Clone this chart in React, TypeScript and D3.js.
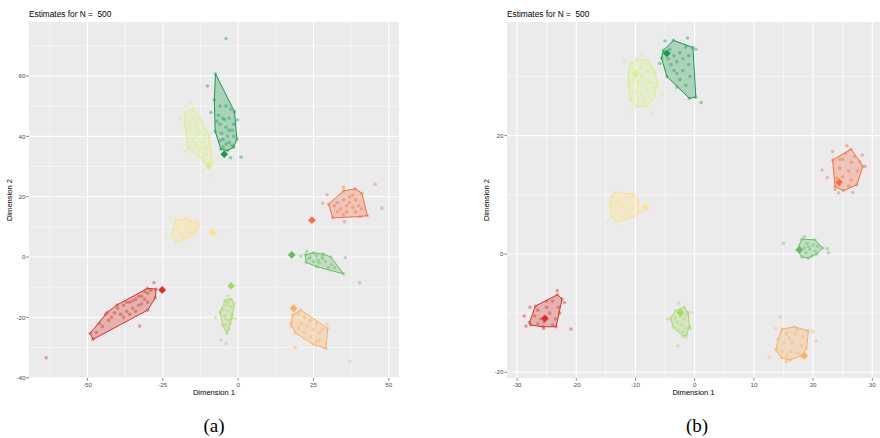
import * as d3 from "d3";

type Pt = [number, number];

// RdYlGn, one colour per cluster
const palette = ["#D73027", "#F46D43", "#FDAE61", "#FEE08B", "#D9EF8B", "#A6D96A", "#66BD63", "#1A9850"];

const titleText = "Estimates for N =  500";

// ---- panel (a) ----
const xTicksA = [-50, -25, 0, 25, 50];
const xMinorA = [-62.5, -37.5, -12.5, 12.5, 37.5];
const yTicksA = [-40, -20, 0, 20, 40, 60];
const yMinorA = [-30, -10, 10, 30, 50, 70];

const hullsA: Pt[][] = [
  [[-49.1, -25.3], [-48.2, -27.3], [-30.0, -17.6], [-27.5, -13.5], [-27.2, -10.6], [-30.1, -10.4], [-40.2, -15.9], [-43.4, -18.3]],
  [[30.0, 17.5], [35.0, 21.9], [38.9, 22.6], [41.1, 21.1], [42.9, 13.7], [40.5, 13.4], [31.4, 13.0]],
  [[20.8, -17.6], [29.7, -23.6], [29.2, -30.3], [24.8, -28.9], [18.9, -25.1], [17.6, -22.0], [18.0, -19.2]],
  [[-20.7, 12.3], [-16.8, 12.6], [-12.9, 10.8], [-14.3, 7.5], [-20.6, 4.9], [-22.0, 7.3]],
  [[-15.0, 49.2], [-12.6, 46.0], [-9.7, 40.5], [-8.5, 31.3], [-9.8, 29.4], [-11.3, 31.7], [-16.5, 36.1], [-17.8, 44.5], [-17.5, 47.7]],
  [[-4.3, -14.3], [-2.3, -13.9], [-1.3, -15.6], [-2.1, -20.3], [-3.7, -25.3], [-5.1, -22.6], [-6.0, -18.3]],
  [[22.3, 0.7], [25.0, 1.4], [28.3, 1.0], [30.8, 0.0], [35.0, -5.6], [26.1, -3.2], [22.6, -1.8]],
  [[-7.5, 60.7], [-1.2, 48.2], [-0.4, 39.0], [-1.5, 36.4], [-3.5, 35.3], [-5.7, 35.7], [-7.6, 41.6], [-7.9, 52.1]],
];

const pointsA: Pt[][] = [
  [[-63.7, -33.4], [-27.9, -8.5], [-32.7, -22.9], [-46, -22], [-44, -19], [-42, -20], [-40, -17], [-39, -19], [-38, -16], [-37, -18], [-36, -15], [-35, -17], [-34, -14], [-33, -16], [-32, -13], [-31, -14], [-30, -12], [-29, -11], [-31, -11.5], [-33, -13], [-35, -14.5], [-37, -15], [-41, -18.5], [-43, -21], [-45, -23], [-47, -25], [-36, -19], [-34, -18], [-30, -15], [-32, -15.5], [-38, -20]],
  [[45.5, 24.1], [47.7, 16.2], [29.5, 20.6], [28.1, 17.8], [35.3, 11.7], [35, 23], [33, 18], [35, 19], [37, 20], [39, 19], [36, 17], [38, 16.5], [40, 17], [34, 16], [36, 15], [39, 15], [41, 16], [33, 15], [37, 18], [35, 14], [32, 17], [38, 20.5]],
  [[18.9, -30.0], [37.2, -34.6], [29.5, -22.2], [17.5, -23.1], [20, -19], [22, -20], [24, -21], [26, -22], [21, -22], [23, -23], [25, -24], [27, -25], [22, -25], [24, -26.5], [27, -27.5], [20, -23.5], [28, -24], [26, -28]],
  [[-22.6, 12.8], [-23.9, 6.6], [-18.1, 3.6], [-13.9, 11.7], [-20, 10], [-18, 11], [-16, 10], [-14.5, 9.5], [-19, 8], [-17, 8.5], [-15.5, 8], [-18, 6.5], [-16, 11.5], [-13.5, 10], [-20, 9], [-17, 10]],
  [[-15.9, 51.0], [-17.2, 49.9], [-19.1, 46.1], [-17.5, 35.2], [-11.7, 28.5], [-8.6, 27.4], [-7.1, 32.7], [-15, 46], [-14, 44], [-16, 42], [-13, 41], [-15, 39], [-12, 38], [-14, 37], [-11, 36], [-13, 35], [-10.5, 34], [-12, 33], [-11, 40], [-16, 44.5], [-14, 40], [-12.5, 36.5], [-10, 37]],
  [[-5.7, -27.5], [-4.0, -28.7], [-7.5, -20.1], [-1.0, -20.3], [-3.4, -12.9], [-4, -16], [-2.5, -16.5], [-3.5, -18], [-2, -19], [-4.5, -19.5], [-3, -21], [-4, -22.5], [-3, -24], [-5, -17.5], [-2.5, -22], [-3.5, -15], [-4.2, -20.5]],
  [[35.6, -0.2], [40.3, -8.5], [20.8, 0.3], [22.8, 1.8], [24, 0], [26, 0.5], [28, -0.5], [25, -1.5], [27, -2], [29, -1.5], [31, -2.5], [30, -3.5], [23.5, -0.5], [26.5, -1], [32, -3.5], [28, 0.3]],
  [[-4.0, 72.4], [-10.2, 56.7], [-9.0, 47.9], [1.0, 33.1], [-2.5, 32.9], [-0.2, 45.4], [-6, 50], [-4, 50], [-2.5, 49], [-6.5, 47], [-5, 46], [-3, 46], [-1.5, 44], [-6, 44], [-4, 43], [-2, 42], [-5.5, 41], [-3.5, 40], [-1.5, 40], [-5, 39], [-3, 38], [-2, 37], [-4, 37.5], [-6, 38.5], [-5, 36.5], [-3, 42], [-7, 45], [-4.5, 45.5]],
];

const centersA: Pt[] = [[-25.2, -10.9], [24.5, 12.2], [18.4, -17.0], [-8.4, 8.0], [-9.8, 30.3], [-2.3, -9.6], [17.8, 0.7], [-4.6, 34.1]];

// ---- panel (b) ----
const xTicksB = [-30, -20, -10, 0, 10, 20, 30];
const xMinorB = [-25, -15, -5, 5, 15, 25];
const yTicksB = [-20, 0, 20];
const yMinorB = [-10, 10, 30];

const hullsB: Pt[][] = [
  [[-27.9, -11.6], [-26.9, -8.8], [-23.2, -6.9], [-22.4, -7.6], [-23.4, -12.3], [-25.6, -12.3], [-27.7, -12.0]],
  [[23.3, 15.9], [26.4, 17.7], [27.9, 15.6], [28.4, 14.8], [27.4, 11.7], [25.1, 10.7], [23.7, 11.4]],
  [[14.7, -12.7], [16.9, -12.3], [19.2, -13.0], [18.9, -15.9], [18.1, -17.2], [16.1, -17.9], [14.7, -17.6], [13.7, -16.2], [14.1, -14.4]],
  [[-13.5, 10.4], [-10.4, 10.1], [-9.5, 9.1], [-9.5, 6.9], [-10.1, 6.3], [-13.2, 5.5], [-14.0, 6.3], [-14.3, 8.3], [-13.9, 9.7]],
  [[-9.8, 32.9], [-7.8, 32.7], [-6.7, 30.8], [-6.3, 28.9], [-6.8, 26.6], [-8.1, 25.0], [-9.8, 24.9], [-10.8, 26.0], [-11.2, 28.3], [-11.2, 30.6], [-10.8, 32.2]],
  [[-1.8, -9.0], [-1.1, -9.9], [-0.9, -12.3], [-1.4, -13.7], [-2.0, -13.9], [-3.6, -12.4], [-4.1, -10.9], [-3.2, -9.6]],
  [[18.1, 2.5], [20.3, 2.4], [21.6, 1.0], [20.6, 0.0], [19.2, -0.7], [18.1, -0.5], [17.3, 0.7]],
  [[-3.6, 36.1], [-0.3, 34.9], [0.2, 26.5], [-0.9, 26.3], [-4.7, 30.0], [-5.6, 33.1], [-5.3, 34.4]],
];

const pointsB: Pt[][] = [
  [[-23.2, -6.2], [-28.8, -10.5], [-28.5, -12.2], [-25.5, -12.6], [-20.9, -12.7], [-22.0, -8.2], [-27.8, -9.0], [-26.5, -9.5], [-25, -9], [-24, -8], [-23, -9], [-26, -11], [-24.5, -10], [-23.5, -11], [-27, -10.5], [-25.5, -11.5], [-24, -12], [-22.8, -10], [-25, -8], [-26.5, -11.8]],
  [[25.7, 18.3], [23.3, 17.3], [28.3, 16.7], [28.8, 14.8], [21.5, 14.2], [22.4, 12.9], [24.3, 10.3], [26.7, 10.4], [23.7, 10.9], [25, 16], [26.5, 15.5], [24.5, 14.5], [26, 14], [27.5, 14], [25, 13], [26.5, 12.5], [24, 12.8], [27, 16.5], [25.5, 17], [26, 11.5], [24.5, 16]],
  [[14.5, -10.6], [12.6, -17.4], [20.5, -14.7], [20.0, -13.1], [15.5, -18.2], [13.7, -12.6], [15.5, -13.5], [17, -13.5], [18.3, -14], [15, -15], [16.5, -15], [18, -15.5], [14.8, -16.5], [16.2, -16.5], [17.5, -16.8], [16, -14.2], [17.3, -12.8], [15.5, -17.2]],
  [[-14.9, 5.3], [-12.3, 4.3], [-9.0, 7.2], [-13, 9], [-12, 9.5], [-11, 9], [-10.5, 8], [-12.5, 8], [-13.5, 7.5], [-11.5, 7], [-12.5, 6.5], [-11, 6.5], [-13, 8.5], [-10.8, 9.5], [-12, 8]],
  [[-11.8, 32.7], [-9.0, 33.6], [-10.6, 24.2], [-7.2, 23.7], [-5.3, 27.2], [-11.9, 32.5], [-5.6, 27.0], [-10, 31], [-9, 31.5], [-8, 31], [-10.5, 29.5], [-9.5, 29], [-8.5, 29.5], [-7.5, 29], [-10, 27.5], [-9, 27], [-8, 27.5], [-7, 28], [-9.5, 26], [-8.5, 25.8], [-11, 29], [-9, 30]],
  [[-2.7, -8.3], [-0.5, -9.9], [-4.6, -11.0], [-2.8, -15.5], [-0.7, -12.5], [-1.5, -14.1], [-2.5, -10.5], [-1.8, -11], [-3, -11.5], [-2.2, -12], [-1.5, -12.5], [-2.8, -12.8], [-2, -13.2], [-3.3, -10.8], [-1.4, -10.2]],
  [[15.0, 1.8], [22.4, 0.9], [22.6, 0.2], [18.5, 2.9], [19, 1.8], [20, 1.5], [19.5, 0.8], [18.8, 0.2], [20.3, 0.5], [19.2, 1.2], [20.8, 1.3], [18.5, 1.0], [19.8, -0.3]],
  [[-1.2, 36.5], [-5.0, 36.0], [1.1, 25.6], [0.2, 34.6], [-5.9, 32.2], [-3.0, 28.2], [-4.5, 33], [-3.5, 33.5], [-2.5, 34], [-4, 32], [-3, 32.5], [-2, 33], [-1, 33.5], [-3.5, 31], [-2, 31], [-1, 32], [-2.5, 29.5], [-1.5, 28.5], [-3, 30.5], [-0.8, 30], [-4.2, 34.6], [-1.5, 35]],
];

const centersB: Pt[] = [[-25.3, -10.9], [24.4, 12.1], [18.5, -17.2], [-8.3, 7.9], [-10.0, 30.4], [-2.4, -9.9], [17.7, 0.7], [-4.7, 33.9]];

const FONT = "'Liberation Sans', Arial, sans-serif";
const diamond = d3.symbol(d3.symbolSquare, 30)();

function Panel(props: {
  left: number; right: number; top: number; bottom: number;
  xDomain: [number, number]; yDomain: [number, number];
  xTicks: number[]; xMinor: number[]; yTicks: number[]; yMinor: number[];
  hulls: Pt[][]; points: Pt[][]; centers: Pt[]; yTitleX: number;
}) {
  const { left, right, top, bottom } = props;
  const x = d3.scaleLinear().domain(props.xDomain).range([left, right]);
  const y = d3.scaleLinear().domain(props.yDomain).range([bottom, top]);
  const line = d3.line<Pt>().x(d => x(d[0])).y(d => y(d[1])).curve(d3.curveLinearClosed);
  const clipId = "clip" + left;
  return (
    <g>
      <defs>
        <clipPath id={clipId}><rect x={left} y={top} width={right - left} height={bottom - top} /></clipPath>
      </defs>
      <text x={left} y={17} fontSize={8.3} fill="#000" style={{ whiteSpace: "pre" }}>{titleText}</text>
      <rect x={left} y={top} width={right - left} height={bottom - top} fill="#EBEBEB" />
      {props.xMinor.map(v => <line key={"xm" + v} x1={x(v)} x2={x(v)} y1={top} y2={bottom} stroke="#fff" strokeWidth={0.55} />)}
      {props.yMinor.map(v => <line key={"ym" + v} y1={y(v)} y2={y(v)} x1={left} x2={right} stroke="#fff" strokeWidth={0.55} />)}
      {props.xTicks.map(v => <line key={"xM" + v} x1={x(v)} x2={x(v)} y1={top} y2={bottom} stroke="#fff" strokeWidth={1.1} />)}
      {props.yTicks.map(v => <line key={"yM" + v} y1={y(v)} y2={y(v)} x1={left} x2={right} stroke="#fff" strokeWidth={1.1} />)}
      <g clipPath={`url(#${clipId})`}>
        {props.hulls.map((h, i) => (
          <path key={"h" + i} d={line(h) || ""} fill={palette[i]} fillOpacity={0.3} stroke={palette[i]} strokeWidth={1} />
        ))}
        {props.points.map((ps, i) =>
          ps.concat(props.hulls[i]).map((p, j) => (
            <circle key={"p" + i + "-" + j} cx={x(p[0])} cy={y(p[1])} r={1.8} fill={palette[i]} fillOpacity={0.42} />
          ))
        )}
        {props.centers.map((c, i) => (
          <path key={"c" + i} d={diamond || ""} transform={`translate(${x(c[0])},${y(c[1])}) rotate(45)`} fill={palette[i]} />
        ))}
      </g>
      {props.xTicks.map(v => (
        <g key={"xt" + v}>
          <line x1={x(v)} x2={x(v)} y1={bottom} y2={bottom + 2.7} stroke="#333" strokeWidth={0.6} />
          <text x={x(v)} y={bottom + 8.8} fontSize={6.2} fill="#4D4D4D" textAnchor="middle">{v}</text>
        </g>
      ))}
      {props.yTicks.map(v => (
        <g key={"yt" + v}>
          <line x1={left - 2.7} x2={left} y1={y(v)} y2={y(v)} stroke="#333" strokeWidth={0.6} />
          <text x={left - 3.6} y={y(v)} dy="0.35em" fontSize={6.2} fill="#4D4D4D" textAnchor="end">{v}</text>
        </g>
      ))}
      <text x={(left + right) / 2} y={395} fontSize={7.6} fill="#000" textAnchor="middle">Dimension 1</text>
      <text transform={`translate(${props.yTitleX},${(top + bottom) / 2}) rotate(-90)`} fontSize={7.6} fill="#000" textAnchor="middle">Dimension 2</text>
    </g>
  );
}

export default function App() {
  return (
    <svg width={880} height={438} style={{ position: "absolute", left: 0, top: 0, background: "#fff" }} fontFamily={FONT}>
      <Panel left={29} right={399} top={22} bottom={378}
        xDomain={[-69.4, 53.4]} yDomain={[-40.1, 77.9]}
        xTicks={xTicksA} xMinor={xMinorA} yTicks={yTicksA} yMinor={yMinorA}
        hulls={hullsA} points={pointsA} centers={centersA} yTitleX={12} />
      <Panel left={507} right={880} top={22} bottom={378}
        xDomain={[-31.7, 31.3]} yDomain={[-20.96, 39.2]}
        xTicks={xTicksB} xMinor={xMinorB} yTicks={yTicksB} yMinor={yMinorB}
        hulls={hullsB} points={pointsB} centers={centersB} yTitleX={489} />
      <text x={214} y={432} fontSize={19} fontFamily="'Liberation Serif', 'Times New Roman', serif" textAnchor="middle">(a)</text>
      <text x={697} y={432} fontSize={19} fontFamily="'Liberation Serif', 'Times New Roman', serif" textAnchor="middle">(b)</text>
    </svg>
  );
}
